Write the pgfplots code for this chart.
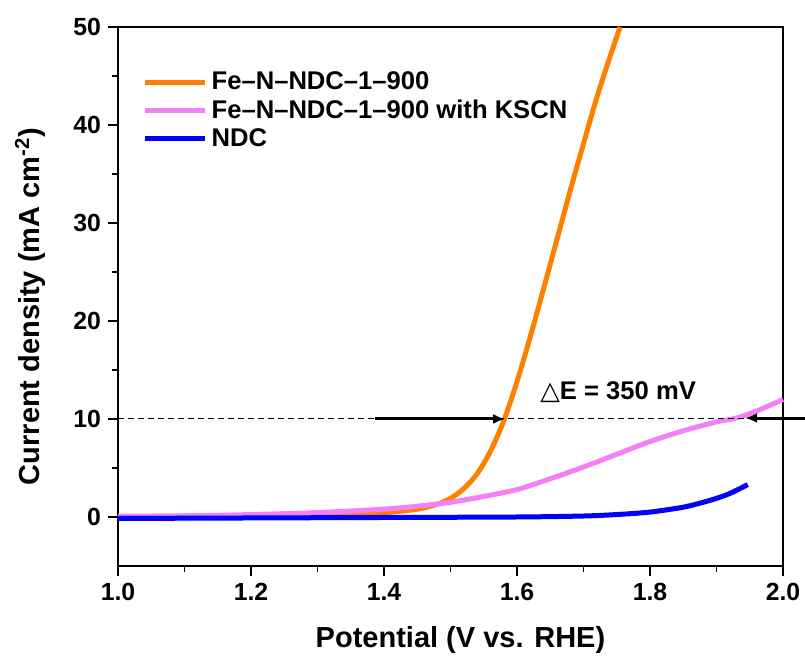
\documentclass[border=0pt]{standalone}
\usepackage{pgfplots}
\pgfplotsset{compat=1.18}
\usepackage{fontspec}
\setmainfont{Liberation Sans}
\newfontfamily\symfont{DejaVu Sans}
\usetikzlibrary{arrows.meta}

\definecolor{feorange}{RGB}{255,128,0}
\definecolor{kscnpink}{RGB}{245,128,245}
\definecolor{ndcblue}{RGB}{0,0,255}

\begin{document}
\begin{tikzpicture}
    \begin{axis}[
        scale only axis,
        width=332.5pt,
        height=269.5pt,
        xmin=1.0, xmax=2.0,
        ymin=-5, ymax=50,
        xtick={1.0,1.2,...,2.0},
        ytick={0,10,...,50},
        minor x tick num=1,
        minor y tick num=1,
        tick pos=left,
        tick align=outside,
        major tick length=5pt,
        minor tick length=3pt,
        axis line style={line width=0.8pt},
        every tick/.style={black, line width=0.8pt},
        /pgf/number format/assume math mode=true,
        xticklabel style={/pgf/number format/.cd, fixed, fixed zerofill, precision=1},
        tick label style={font=\fontsize{12.4}{14}\selectfont\bfseries},
        xlabel={Potential (V vs. RHE)},
        ylabel={Current density (mA cm\textsuperscript{-2})},
        label style={font=\fontsize{14.5}{16}\selectfont\bfseries},
        xlabel style={yshift=-6pt, xshift=5pt},
        ylabel style={yshift=7pt, xshift=-5pt},
        clip=false,
        legend cell align=left,
        legend style={draw=none, fill=none, at={(rel axis cs:0.0275,0.9325)}, anchor=north west,
            font=\fontsize{12.8}{14}\selectfont\bfseries, row sep=-0.5pt,
            /tikz/every even column/.append style={column sep=2pt}},
        legend image code/.code={\draw[#1] (0pt,0pt) -- (30pt,0pt);},
        ]

        \addplot[feorange, line width=2.5pt, smooth] coordinates {
            (1.00,0.05) (1.10,0.10) (1.20,0.15) (1.30,0.25) (1.40,0.45)
            (1.45,0.80) (1.48,1.30) (1.50,1.90) (1.52,2.90) (1.54,4.40)
            (1.56,6.70) (1.58,9.80) (1.60,13.8) (1.62,18.4) (1.64,23.3)
            (1.66,28.3) (1.68,33.3) (1.70,38.1) (1.72,42.8) (1.74,47.0)
            (1.755,50.0)
        };
        \addlegendentry{Fe--N--NDC--1--900}

        \addplot[kscnpink, line width=2.5pt, smooth] coordinates {
            (1.00,0.05) (1.10,0.10) (1.20,0.25) (1.30,0.45) (1.40,0.80)
            (1.45,1.10) (1.50,1.50) (1.55,2.10) (1.60,2.80) (1.65,3.90)
            (1.70,5.10) (1.75,6.40) (1.80,7.70) (1.85,8.80) (1.90,9.70)
            (1.93,10.1) (1.96,10.8) (2.00,12.0)
        };
        \addlegendentry{Fe--N--NDC--1--900 with KSCN}

        \addplot[ndcblue, line width=2.5pt, smooth] coordinates {
            (1.00,-0.15) (1.20,-0.10) (1.40,-0.05) (1.60,0.00) (1.70,0.10)
            (1.75,0.25) (1.80,0.50) (1.85,1.00) (1.88,1.50) (1.90,1.90)
            (1.92,2.40) (1.947,3.30)
        };
        \addlegendentry{NDC}

        % guide line and the two arrows marking the 10 mA gap
        \draw[black, line width=0.5pt, dash pattern=on 3pt off 2pt] (axis cs:1.0,10) -- (axis cs:2.0,10);
        \draw[black, line width=1.5pt, -{Latex[length=6pt,width=5pt]}] (axis cs:1.386,10) -- (axis cs:1.582,10);
        \draw[black, line width=1.5pt, -{Latex[length=6pt,width=5pt]}] (axis cs:2.06,10.1) -- (axis cs:1.943,10.1);
        \node[font=\fontsize{12.8}{14}\selectfont\bfseries] at (axis cs:1.752,12.75) {{\symfont\mdseries △}E = 350 mV};

        \coordinate (bl) at (rel axis cs:0,0);
    \end{axis}
    \pgfresetboundingbox
    \path[use as bounding box] ([shift={(-59pt,-45.5pt)}]bl) rectangle ([shift={(343.5pt,283pt)}]bl);
\end{tikzpicture}
\end{document}
